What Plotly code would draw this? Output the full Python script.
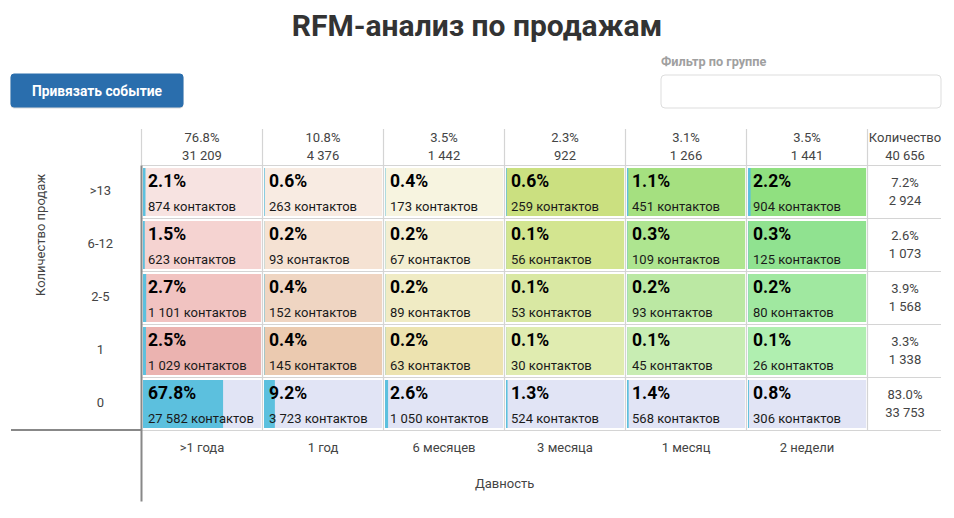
import plotly.graph_objects as go

W, H = 954, 518
recency = [">1 года", "1 год", "6 месяцев", "3 месяца", "1 месяц", "2 недели"]
frequency = [">13", "6-12", "2-5", "1", "0"]

pct_r13 = [2.1, 0.6, 0.4, 0.6, 1.1, 2.2]
pct_r6 = [1.5, 0.2, 0.2, 0.1, 0.3, 0.3]
pct_r2 = [2.7, 0.4, 0.2, 0.1, 0.2, 0.2]
pct_r1 = [2.5, 0.4, 0.2, 0.1, 0.1, 0.1]
pct_r0 = [67.8, 9.2, 2.6, 1.3, 1.4, 0.8]
cnt_r13 = [874, 263, 173, 259, 451, 904]
cnt_r6 = [623, 93, 67, 56, 109, 125]
cnt_r2 = [1101, 152, 89, 53, 93, 80]
cnt_r1 = [1029, 145, 63, 30, 45, 26]
cnt_r0 = [27582, 3723, 1050, 524, 568, 306]
col_pct = [76.8, 10.8, 3.5, 2.3, 3.1, 3.5]
col_cnt = [31209, 4376, 1442, 922, 1266, 1441]
row_pct = [7.2, 2.6, 3.9, 3.3, 83.0]
row_cnt = [2924, 1073, 1568, 1338, 33753]
total_cnt = 40656

col_r13 = ["#f7e3e1", "#f8ebe2", "#f7f4e0", "#cbe080", "#a5e080", "#90e080"]
col_r6 = ["#f5d3d1", "#f5e2d3", "#f3eed2", "#d3e590", "#aee590", "#90e290"]
col_r2 = ["#f1c3c1", "#efd5c2", "#f0ebc4", "#d9e8a3", "#bbe8a3", "#a0e8a0"]
col_r1 = ["#ebb3b0", "#ebcab0", "#ede3b0", "#e0ecb0", "#c8edb3", "#b0efb0"]
col_r0 = ["#e1e4f5"] * 6

pct_rows = [pct_r13, pct_r6, pct_r2, pct_r1, pct_r0]
cnt_rows = [cnt_r13, cnt_r6, cnt_r2, cnt_r1, cnt_r0]
col_rows = [col_r13, col_r6, col_r2, col_r1, col_r0]


def sp(n):
    return f"{n:,}".replace(",", " ")


def X(px):
    return px / W


def Y(py):
    return 1 - py / H


L, T, B = 141.5, 165.5, 430.5
CW, RH = 121, 53
FONT = "Roboto"
TXT = "#444444"
CELL_L, CELL_W = 0.0125, 0.976
BAR_H = 0.905

cx, cy, cw, cb, cc = [], [], [], [], []
bx, by, bb = [], [], []
px_x, px_y, px_t, ct_x, ct_y, ct_t = [], [], [], [], [], []
for i in range(5):
    for j in range(6):
        cy.append(i)
        cw.append(CELL_W)
        cb.append(j + CELL_L)
        cc.append(col_rows[i][j])
        by.append(i)
        bb.append(j + CELL_L)
        bx.append(pct_rows[i][j] / 100 * CELL_W)
        px_x.append(j + 0.054)
        px_y.append(i - 0.18)
        px_t.append(f"<b>{pct_rows[i][j]:.1f}%</b>")
        ct_x.append(j + 0.054)
        ct_y.append(i + 0.30)
        ct_t.append(f"{sp(cnt_rows[i][j])} контактов")

fig = go.Figure()
fig.add_bar(x=cw, y=cy, base=cb, orientation="h", width=BAR_H,
            marker=dict(color=cc, line_width=0), hoverinfo="skip")
# Slight alpha makes the renderer round bars to whole pixels, so the tiniest shares vanish as in the reference.
fig.add_bar(x=bx, y=by, base=bb, orientation="h", width=BAR_H,
            marker=dict(color="rgba(91,192,222,0.995)", line_width=0), hoverinfo="skip")
fig.add_scatter(x=px_x, y=px_y, text=px_t, mode="text", textposition="middle right",
                textfont=dict(family=FONT, size=17.5, color="#000000"), hoverinfo="skip")
fig.add_scatter(x=ct_x, y=ct_y, text=ct_t, mode="text", textposition="middle right",
                textfont=dict(family=FONT, size=13, color="#1a1a1a"), hoverinfo="skip")


def centered(xs, ys, ts, color=TXT, size=13):
    fig.add_scatter(x=xs, y=ys, text=ts, mode="text", textposition="middle center",
                    textfont=dict(family=FONT, size=size, color=color), hoverinfo="skip")


cols = [j + 0.5 for j in range(6)]
centered(cols, [-1.00] * 6, [f"{v:.1f}%" for v in col_pct])
centered(cols, [-0.66] * 6, [sp(v) for v in col_cnt])
RIGHT_X = 6.31
centered([RIGHT_X], [-1.00], ["Количество"])
centered([RIGHT_X], [-0.66], [sp(total_cnt)])
centered([RIGHT_X] * 5, [i - 0.165 for i in range(5)], [f"{v:.1f}%" for v in row_pct])
centered([RIGHT_X] * 5, [i + 0.185 for i in range(5)], [sp(v) for v in row_cnt])
centered([-0.34] * 5, [i - 0.01 for i in range(5)], frequency)

# The axes span the whole page so header and total labels stay in range; 1 unit = one table cell.
x_range = [-L / CW, (W - L) / CW]
y_range = [(H - T) / RH - 0.5, -T / RH - 0.5]

fig.update_layout(
    width=W, height=H, margin=dict(l=0, r=0, t=0, b=0),
    paper_bgcolor="white", plot_bgcolor="rgba(0,0,0,0)", showlegend=False, barmode="overlay",
    font=dict(family=FONT, color=TXT),
    xaxis=dict(domain=[0, 1], range=x_range, anchor="free", position=Y(B),
               tickvals=cols, ticktext=recency,
               ticks="outside", ticklen=5, tickcolor="rgba(0,0,0,0)",
               tickfont=dict(family=FONT, size=13, color=TXT),
               showgrid=False, zeroline=False, showline=False, fixedrange=True),
    yaxis=dict(domain=[0, 1], range=y_range, showticklabels=False, ticks="",
               showgrid=False, zeroline=False, showline=False, fixedrange=True),
    title=dict(text="<b>RFM-анализ по продажам</b>", x=0.5, xanchor="center", xref="paper",
               y=Y(25), yanchor="middle", font=dict(family=FONT, size=30, color="#333333")),
)


def line(x0, y0, x1, y1, color="#d4d4d4", width=1.2):
    fig.add_shape(type="line", xref="paper", yref="paper", x0=X(x0), y0=Y(y0), x1=X(x1), y1=Y(y1),
                  line=dict(color=color, width=width))


def round_rect(x0, y0, x1, y1, r, fill, border, bw=1):
    a, b, c, d = X(x0), X(x1), Y(y0), Y(y1)
    rx, ry = r / W, r / H
    path = (f"M {a+rx} {c} L {b-rx} {c} Q {b} {c} {b} {c-ry} L {b} {d+ry} Q {b} {d} {b-rx} {d} "
            f"L {a+rx} {d} Q {a} {d} {a} {d+ry} L {a} {c-ry} Q {a} {c} {a+rx} {c} Z")
    fig.add_shape(type="path", xref="paper", yref="paper", path=path, fillcolor=fill,
                  line=dict(color=border, width=bw))


# table rules
for j in range(7):
    line(L + j * CW, 129, L + j * CW, T if j == 0 else B)
for i in range(6):
    line(L, T + i * RH, 941, T + i * RH)
line(L, T, L, 501.5, color="#888888", width=2)
line(11, 430, L, 430, color="#888888", width=2)

# header controls
round_rect(11, 75, 183, 108, 3, "#d9d9d9", "#d9d9d9")
round_rect(11, 74, 183, 107, 3, "#2a6ead", "#2a6ead")
round_rect(661, 75, 941, 108, 4, "white", "#dddddd")


def note(x, y, text, size, color, anchor="center", angle=0):
    fig.add_annotation(xref="paper", yref="paper", x=X(x), y=Y(y), text=text, showarrow=False,
                       xanchor=anchor, yanchor="middle", textangle=angle,
                       font=dict(family=FONT, size=size, color=color))


note(97, 90.5, "<b>Привязать событие</b>", 13.8, "white")
note(659, 62, "<b>Фильтр по группе</b>", 12.7, "#a0a0a0", anchor="left")
note(40, 235, "Количество продаж", 13, TXT, angle=-90)
note(504.5, 483, "Давность", 13, TXT)

fig.write_html("out.html", config={"displayModeBar": False},
               post_script="document.body.style.margin='0';document.body.style.overflow='hidden';")
